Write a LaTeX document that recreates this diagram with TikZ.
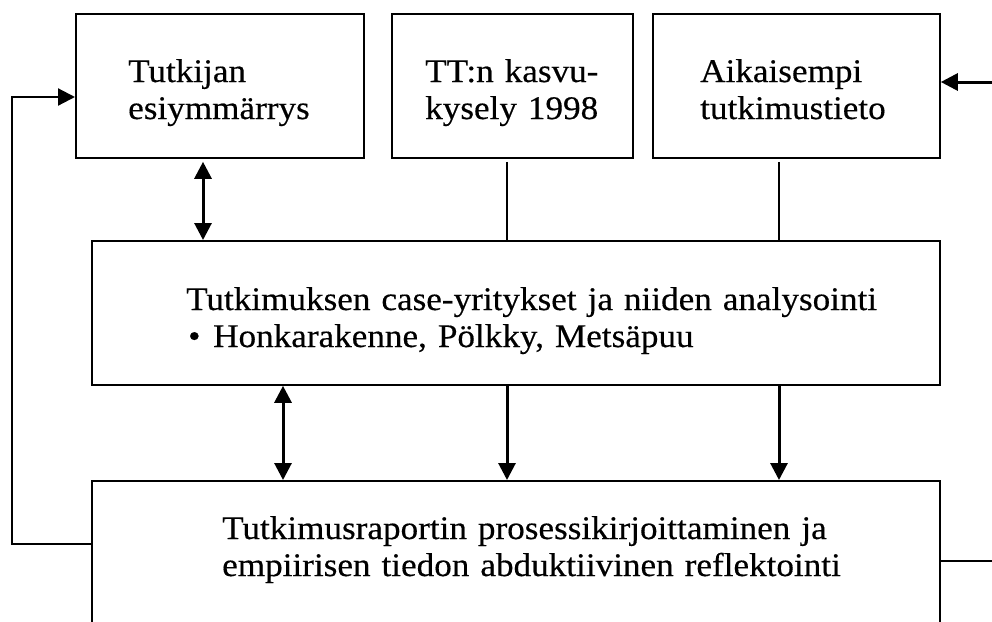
\documentclass[tikz,border=0pt]{standalone}
\usepackage{fontspec}
\setmainfont{Liberation Serif}[FakeStretch=1.065,FakeBold=0.4]
\usetikzlibrary{arrows.meta,calc}

\tikzset{
  box/.style={draw, rectangle, line width=1.8pt, inner sep=0pt, anchor=north west},
  txt/.style={anchor=base west, inner sep=0pt, align=left,
              font=\fontsize{33}{37}\selectfont},
  onearrow/.style={line width=3pt, -{Triangle[length=17pt,width=17pt]}},
  twoarrow/.style={line width=3pt, {Triangle[length=17pt,width=17pt]}-{Triangle[length=17pt,width=17pt]}},
  thinline/.style={line width=1.3pt},
  loopline/.style={line width=2.2pt, -{Triangle[length=17pt,width=17pt]}},
}

\begin{document}
\begin{tikzpicture}[x=1pt,y=-1pt]
\useasboundingbox (0,0) rectangle (992,621);
\clip (0,0) rectangle (992,621);

% boxes
\node[box, minimum width=288pt, minimum height=144pt] (pre) at (75,13) {};
\node[box, minimum width=241pt, minimum height=144pt] (survey) at (391,13) {};
\node[box, minimum width=287pt, minimum height=144pt] (prior) at (652,13) {};
\node[box, minimum width=848pt, minimum height=144pt] (cases) at (91,240) {};
\node[box, minimum width=848pt, minimum height=180pt] (report) at (91,480) {};

% texts
\node[txt, text width=230pt] (preT) at ($(pre.north west)+(53,69)$)
  {Tutkijan\\esiymmärrys};
\node[txt, text width=200pt] (surveyT) at ($(survey.north west)+(34,69)$)
  {TT:n kasvu-\\kysely 1998};
\node[txt, text width=230pt] (priorT) at ($(prior.north west)+(48,69)$)
  {Aikaisempi\\tutkimustieto};
\node[txt, text width=740pt] (casesT) at ($(cases.north west)+(95,70)$)
  {Tutkimuksen case-yritykset ja niiden analysointi\\
   \makebox[27pt][l]{\hspace{2pt}\textbullet}Honkarakenne, Pölkky, Metsäpuu};
\node[txt, text width=740pt] (reportT) at ($(report.north west)+(131,59)$)
  {Tutkimusraportin prosessikirjoittaminen ja\\
   empiirisen tiedon abduktiivinen reflektointi};

% connectors between the top row and the case box
\coordinate (a1) at ($(pre.south west)+(128,3)$);
\draw[twoarrow] (a1) -- (a1 |- cases.north);
\coordinate (s1) at ($(survey.south west)+(116,3)$);
\draw[thinline] (s1) -- (s1 |- cases.north);
\coordinate (p1) at ($(prior.south west)+(127,3)$);
\draw[thinline] (p1) -- (p1 |- cases.north);

% connectors between the case box and the report box
\coordinate (c1) at ($(cases.south west)+(192,0)$);
\draw[twoarrow] (c1) -- (c1 |- report.north);
\coordinate (c2) at ($(cases.south west)+(416,0)$);
\draw[onearrow] (c2) -- (c2 |- report.north);
\coordinate (c3) at ($(cases.south west)+(688,0)$);
\draw[onearrow] (c3) -- (c3 |- report.north);

% feedback loop on the left
\coordinate (rl) at ($(report.north west)+(0,64)$);
\coordinate (bend) at (12,544);
\coordinate (pl) at ($(pre.north west)+(0,84)$);
\draw[loopline] (rl) -- (bend) |- (pl);

% lines leaving on the right
\coordinate (rin) at (996,82);
\draw[onearrow] (rin) -- (prior.east |- rin);
\coordinate (rr) at ($(report.north east)+(0,81)$);
\coordinate (rout) at (996,561);
\draw[thinline] (rr) -- (rout);
\end{tikzpicture}
\end{document}
